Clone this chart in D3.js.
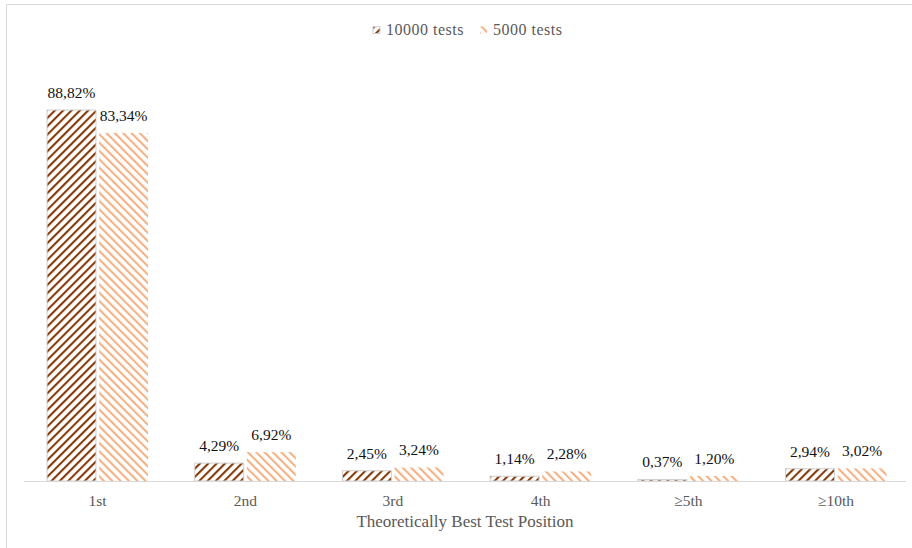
<!DOCTYPE html>
<html>
<head>
<meta charset="utf-8">
<script src="https://cdn.jsdelivr.net/npm/d3@7"></script>
<style>
  html, body { margin: 0; padding: 0; background: #fff; }
  svg { display: block; }
  svg text { font-family: 'Liberation Serif', 'Times New Roman', serif; }
</style>
</head>
<body>
<svg id="chart" width="912" height="548"></svg>
<script>
// Share of runs by theoretically best test position
const categories = ["1st", "2nd", "3rd", "4th", "\u22655th", "\u226510th"];
const seriesNames = ["10000 tests", "5000 tests"];
const tests10000 = [88.82, 4.29, 2.45, 1.14, 0.37, 2.94];
const tests5000 = [83.34, 6.92, 3.24, 2.28, 1.20, 3.02];
const xTitle = "Theoretically Best Test Position";

const FONT = "'Liberation Serif', 'Times New Roman', serif";
const seriesValues = [tests10000, tests5000];
const rows = categories.map((c, i) => ({
  cat: c,
  vals: seriesNames.map((s, j) => ({ series: s, idx: j, value: seriesValues[j][i] }))
}));

const svg = d3.select("#chart");
const W = 912, H = 548;

// Hatch patterns
const defs = svg.append("defs");
const hatch = [
  { id: "hatchDark", color: "#843c0c", angle: 45 },
  { id: "hatchLight", color: "#f4b183", angle: -45 }
];
const period = 5.9;
hatch.forEach(h => {
  const p = defs.append("pattern")
    .attr("id", h.id)
    .attr("patternUnits", "userSpaceOnUse")
    .attr("width", period).attr("height", period)
    .attr("patternTransform", `rotate(${h.angle})`);
  p.append("rect").attr("width", period).attr("height", period).attr("fill", "#fff");
  p.append("rect").attr("x", 0).attr("width", 2.1).attr("height", period).attr("fill", h.color);
});
const fills = ["url(#hatchDark)", "url(#hatchLight)"];
const strokes = ["#d0d0d0", "none"];

// Outer frame
svg.append("path")
  .attr("d", `M6.5,${H} V4.5 H${W}`)
  .attr("fill", "none")
  .attr("stroke", "#d9d9d9")
  .attr("stroke-width", 1);

// Scales
const baseY = 481;
const y = d3.scaleLinear().domain([0, 100]).range([baseY, 63.3]);
const x0 = d3.scaleBand().domain(categories).range([23.7, 909.9])
  .paddingInner(0.316).paddingOuter(0.158);
const x1 = d3.scaleBand().domain(seriesNames).range([0, x0.bandwidth()]).paddingInner(0.06);

// Bars
const groups = svg.append("g").selectAll("g")
  .data(rows).join("g")
  .attr("transform", d => `translate(${x0(d.cat)},0)`);

groups.selectAll("rect")
  .data(d => d.vals).join("rect")
  .attr("x", d => x1(d.series))
  .attr("y", d => y(d.value))
  .attr("width", x1.bandwidth())
  .attr("height", d => baseY - y(d.value))
  .attr("fill", d => fills[d.idx])
  .attr("stroke", d => strokes[d.idx])
  .attr("stroke-width", 1);

// Value labels
groups.selectAll("text.val")
  .data(d => d.vals).join("text")
  .attr("class", "val")
  .attr("x", d => x1(d.series) + x1.bandwidth() / 2)
  .attr("y", d => y(d.value) - 12)
  .attr("text-anchor", "middle")
  .style("font-family", FONT)
  .attr("font-size", 15.5)
  .attr("fill", "#111")
  .text(d => d.value.toFixed(2).replace(".", ",") + "%");

// Category axis
const xAxis = svg.append("g")
  .attr("transform", `translate(0,${baseY})`)
  .call(d3.axisBottom(x0).tickSize(0).tickPadding(14));
xAxis.attr("font-family", null);
xAxis.select(".domain").attr("stroke", "#d9d9d9").attr("d", "M24,0.5H906");
xAxis.selectAll("text")
  .style("font-family", FONT)
  .attr("font-size", 15.5)
  .attr("fill", "#595959");

// Axis title
svg.append("text")
  .attr("x", 465).attr("y", 527)
  .attr("text-anchor", "middle")
  .style("font-family", FONT)
  .attr("font-size", 17)
  .attr("fill", "#595959")
  .text(xTitle);

// Legend
const legendItems = [
  { name: seriesNames[0], x: 373 },
  { name: seriesNames[1], x: 480 }
];
const lg = svg.append("g").selectAll("g")
  .data(legendItems).join("g")
  .attr("transform", d => `translate(${d.x},26.5)`);
lg.append("rect")
  .attr("width", 7).attr("height", 7)
  .attr("fill", (d, i) => fills[i])
  .attr("stroke", (d, i) => strokes[i]);
lg.append("text")
  .attr("x", 13).attr("y", 8)
  .style("font-family", FONT)
  .attr("font-size", 16)
  .attr("letter-spacing", 0.5)
  .attr("fill", "#595959")
  .text(d => d.name);
</script>
</body>
</html>
